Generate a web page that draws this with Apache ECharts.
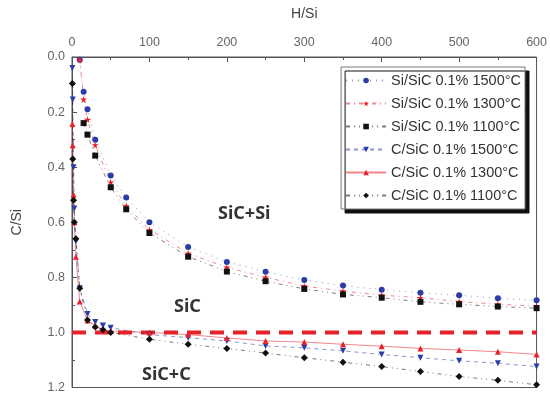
<!DOCTYPE html>
<html>
<head>
<meta charset="utf-8">
<script src="https://cdn.jsdelivr.net/npm/echarts@6/dist/echarts.min.js"></script>
<style>
  html, body { margin: 0; padding: 0; background: #fff; }
  #main { width: 550px; height: 394px; }
</style>
</head>
<body>
<div id="main"></div>
<script>
// H/Si values for the Si/SiC runs
var xSi = [10, 15, 20, 30, 50, 70, 100, 150, 200, 250, 300, 350, 400, 450, 500, 550, 600];
var siSic1500 = [0.01, 0.126, 0.19, 0.30, 0.43, 0.51, 0.60, 0.69, 0.744, 0.78, 0.81, 0.83, 0.845, 0.856, 0.865, 0.876, 0.883];
var siSic1300 = [0.01, 0.154, 0.227, 0.32, 0.455, 0.54, 0.627, 0.713, 0.764, 0.80, 0.832, 0.85, 0.865, 0.874, 0.888, 0.898, 0.904];
var siSic1100 = [null, 0.24, 0.282, 0.358, 0.473, 0.553, 0.639, 0.725, 0.779, 0.814, 0.842, 0.862, 0.874, 0.889, 0.898, 0.906, 0.912];

// H/Si values for the C/SiC runs
var xC = [0.5, 1, 2, 3, 5, 10, 20, 30, 40, 50, 100, 150, 200, 250, 300, 350, 400, 450, 500, 550, 600];
var cSic1500 = [0.04, 0.154, 0.40, 0.55, 0.67, 0.84, 0.933, 0.962, 0.975, 0.983, 1.008, 1.019, 1.031, 1.049, 1.056, 1.067, 1.08, 1.092, 1.103, 1.112, 1.124];
var cSic1300 = [0.243, 0.32, 0.50, 0.60, 0.725, 0.888, 0.957, 0.975, 0.99, 0.995, 1.0, 1.008, 1.02, 1.031, 1.035, 1.043, 1.05, 1.058, 1.064, 1.07, 1.08];
var cSic1100 = [0.096, 0.37, 0.52, 0.60, 0.66, 0.84, 0.955, 0.98, 0.99, 1.0, 1.025, 1.043, 1.058, 1.075, 1.092, 1.108, 1.124, 1.142, 1.16, 1.174, 1.19];

var stoichX = [0, 600];
var stoichY = [1.0, 1.0];

var seriesNames = [
  'Si/SiC 0.1% 1500°C', 'Si/SiC 0.1% 1300°C', 'Si/SiC 0.1% 1100°C',
  'C/SiC 0.1% 1500°C', 'C/SiC 0.1% 1300°C', 'C/SiC 0.1% 1100°C'
];

var blue = '#2a3ca6', red = '#e8222b', black = '#111111';
var star = 'path://M50,0 L61,35 L98,35 L68,57 L79,91 L50,70 L21,91 L32,57 L2,35 L39,35 Z';

function pairs(xs, ys) {
  var out = [];
  for (var i = 0; i < xs.length; i++) {
    if (ys[i] != null) out.push([xs[i], ys[i]]);
  }
  return out;
}

function mk(name, xs, ys, color, symbol, lineType, rot, size) {
  return {
    name: name,
    type: 'line',
    data: pairs(xs, ys),
    symbol: symbol,
    symbolSize: size || 6,
    symbolRotate: rot || 0,
    showAllSymbol: true,
    lineStyle: { color: color, width: 1, type: lineType, opacity: 0.55 },
    itemStyle: { color: color },
    z: 3
  };
}

var chart = echarts.init(document.getElementById('main'));
var axisColor = '#555';
var labelColor = '#666';

chart.setOption({
  backgroundColor: '#fff',
  animation: false,
  grid: { left: 72, right: 9, top: 57, bottom: 2, show: true, borderColor: axisColor, borderWidth: 1 },
  legend: {
    right: 25, top: 67,
    orient: 'vertical',
    data: seriesNames,
    itemWidth: 40, itemHeight: 7, itemGap: 8,
    padding: [6, 4, 6, 4],
    textStyle: { fontFamily: 'Liberation Sans', fontSize: 14.5, color: '#333' },
    backgroundColor: '#fff',
    borderColor: '#777', borderWidth: 1,
    shadowColor: '#111', shadowBlur: 0, shadowOffsetX: 4, shadowOffsetY: 4
  },
  xAxis: {
    type: 'value', position: 'top',
    min: 0, max: 600, interval: 100,
    name: 'H/Si', nameLocation: 'middle', nameGap: 36,
    nameTextStyle: { fontFamily: 'Liberation Sans', fontSize: 14, color: '#444' },
    axisLine: { lineStyle: { color: axisColor } },
    axisTick: { inside: true, length: 5, lineStyle: { color: axisColor } },
    minorTick: { show: true, splitNumber: 2, length: 3, lineStyle: { color: axisColor } },
    splitLine: { show: false },
    axisLabel: { fontFamily: 'Liberation Sans', fontSize: 12.5, color: labelColor, margin: 8 }
  },
  yAxis: {
    type: 'value', inverse: true,
    min: 0, max: 1.2, interval: 0.2,
    name: 'C/Si', nameLocation: 'middle', nameGap: 48, nameRotate: 90,
    nameTextStyle: { fontFamily: 'Liberation Sans', fontSize: 14, color: '#444' },
    axisLine: { lineStyle: { color: axisColor } },
    axisTick: { inside: true, length: 5, lineStyle: { color: axisColor } },
    minorTick: { show: true, splitNumber: 2, length: 3, lineStyle: { color: axisColor } },
    splitLine: { show: false },
    axisLabel: {
      fontFamily: 'Liberation Sans', fontSize: 12.5, color: labelColor, margin: 7,
      formatter: function (v) { return v.toFixed(1); }
    }
  },
  graphic: [
    { type: 'text', left: 218, top: 205, style: { text: 'SiC+Si', font: 'bold 18px "Noto Sans"', fill: '#333' } },
    { type: 'text', left: 174, top: 298, style: { text: 'SiC', font: 'bold 18px "Noto Sans"', fill: '#333' } },
    { type: 'text', left: 142, top: 366, style: { text: 'SiC+C', font: 'bold 18px "Noto Sans"', fill: '#333' } }
  ],
  series: [
    {
      name: 'stoich', type: 'line', data: pairs(stoichX, stoichY),
      symbol: 'none', z: 2,
      lineStyle: { color: red, width: 4, type: [14, 9] }
    },
    mk(seriesNames[0], xSi, siSic1500, blue, 'circle', [1, 5]),
    mk(seriesNames[1], xSi, siSic1300, red, star, [4, 4, 1, 4], 0, 7),
    mk(seriesNames[2], xSi, siSic1100, black, 'rect', [4, 4, 1, 4, 1, 4]),
    mk(seriesNames[3], xC, cSic1500, blue, 'triangle', [4, 4], 180),
    mk(seriesNames[4], xC, cSic1300, red, 'triangle', 'solid'),
    mk(seriesNames[5], xC, cSic1100, black, 'diamond', [4, 4, 1, 4, 1, 4], 0, 7)
  ]
});
</script>
</body>
</html>
